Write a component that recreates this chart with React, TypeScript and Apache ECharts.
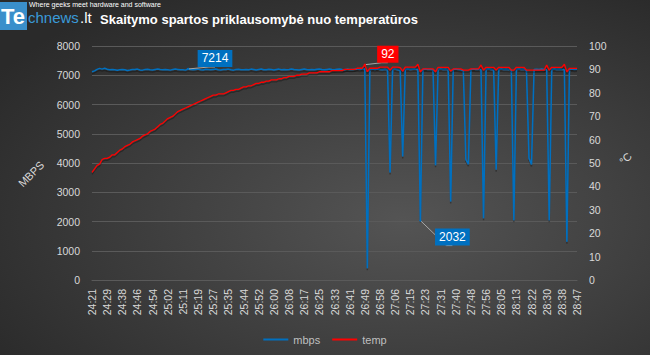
import React, { useEffect, useRef } from 'react';
import * as echarts from 'echarts';

const tickLabels = [
  '24:21', '24:29', '24:38', '24:46', '24:54', '25:02', '25:11', '25:19', '25:27', '25:35', '25:44',
  '25:52', '26:00', '26:08', '26:17', '26:25', '26:33', '26:41', '26:49', '26:58', '27:06', '27:15',
  '27:23', '27:31', '27:40', '27:48', '27:56', '28:05', '28:13', '28:22', '28:30', '28:38', '28:47',
];

// mbps readings (6 samples per labelled tick interval)
const mbps = [
  7120, 7150, 7200, 7235, 7210, 7240, 7205, 7190, 7195, 7185, 7170, 7185,
  7200, 7190, 7165, 7180, 7200, 7195, 7210, 7180, 7175, 7195, 7205, 7190,
  7180, 7200, 7215, 7195, 7185, 7200, 7190, 7175, 7195, 7210, 7200, 7185,
  7190, 7175, 7214, 7195, 7185, 7200, 7210, 7190, 7180, 7205, 7195, 7185,
  7200, 7215, 7190, 7180, 7200, 7195, 7210, 7185, 7175, 7195, 7205, 7190,
  7185, 7200, 7190, 7210, 7195, 7180, 7200, 7215, 7190, 7185, 7205, 7195,
  7180, 7195, 7210, 7190, 7200, 7185, 7195, 7215, 7200, 7190, 7180, 7200,
  7210, 7195, 7185, 7200, 7190, 7205, 7215, 7195, 7185, 7200, 7210, 7195,
  7190, 7205, 7215, 7200, 7190, 7210, 7200, 7195, 7205, 7215, 7200, 7210,
  7220, 400, 7190, 7210, 7200, 7215, 7200, 7190, 7205, 7180, 3680, 7200,
  7210, 7190, 7170, 4220, 7200, 7210, 7195, 7205, 7210, 7190, 2032, 7200,
  7215, 7195, 7205, 7180, 3920, 7200, 7210, 7195, 7205, 7185, 2680, 7200,
  7210, 7195, 7180, 7150, 4120, 3960, 7200, 7210, 7195, 7205, 7190, 2110,
  7200, 7210, 7195, 7180, 3770, 7200, 7210, 7195, 7205, 7190, 7180, 2040,
  7200, 7210, 7195, 7205, 7150, 4160, 3950, 7200, 7205, 7195, 7210, 7200,
  7190, 2040, 7200, 7210, 7195, 7205, 7200, 7190, 1310, 7200, 7210, 7195, 7205,
];

// temperature readings, °C
const temp = [
  46, 47.5, 49, 49.5, 51.5, 52, 52, 52.5, 53.5, 53.5, 54.5, 55.5,
  56, 57, 57.5, 58, 59, 59.5, 60, 60.5, 61.5, 62, 62.5, 63.5,
  64, 64.5, 65.5, 66.5, 67, 68, 69, 69.5, 70, 71, 72, 72.5,
  73, 73.5, 74, 74.5, 75, 75.5, 76, 76.5, 77, 77.5, 78, 78.5,
  79, 79, 79.5, 79.5, 79.5, 80, 80.5, 81, 81, 81.5, 81.5, 82,
  82.5, 82.5, 83, 83, 83.5, 84, 84, 84.5, 84.5, 85, 85, 85.5,
  85.5, 85.5, 86, 86, 86.5, 86.5, 87, 87, 87, 87.5, 87.5, 88,
  88, 88, 88.5, 88.5, 88.5, 88.5, 89, 89, 89, 89, 89, 89.5,
  89.5, 89.5, 89.5, 89.5, 90, 90, 90, 90, 90, 90.5, 90.5, 90.5,
  92, 89, 90.5, 90.5, 90.5, 90.5, 91, 91, 91, 91, 89.7, 91,
  91, 91, 90.8, 89.3, 91, 91, 91, 91, 91, 92.2, 89, 90.2,
  90.2, 90.2, 90.2, 90.2, 89, 90.9, 90.9, 90.9, 90.9, 90.9, 89.3, 90.2,
  90.2, 90.2, 90.2, 89.7, 89.7, 89.7, 90.2, 90.2, 90.2, 90.2, 91.9, 89.7,
  90.9, 90.9, 90.9, 90.9, 89.7, 90.9, 90.9, 90.9, 90.9, 90.9, 89.7, 89.7,
  90.9, 90.9, 90.9, 90.9, 89.7, 89.7, 89.7, 89.7, 89.7, 89.7, 89.7, 89.7,
  91.9, 89.7, 90.9, 90.9, 90.9, 90.9, 90.9, 92.2, 89, 90.4, 90.4, 90.4, 90.4,
];

const seriesNames = ['mbps', 'temp'];
const mbpsCallouts: Record<number, number[]> = { 38: [27, -10.5], 130: [32, 16.5] };
const tempCallouts: Record<number, number[]> = { 108: [23, -10.5] };

const categories = tickLabels.flatMap((t, i) =>
  i === tickLabels.length - 1 ? [t] : [t, '', '', '', '', '']
);

const FONT = 'Liberation Sans';
const AXIS_TEXT = '#d9d9d9';
const GRID = '#5a5a5a';
const BLUE = '#0070c0';
const RED = '#ff0000';

function withCallouts(values: number[], callouts: Record<number, number[]>, bg: string) {
  return values.map((v, i) =>
    callouts[i]
      ? {
          value: v,
          symbol: 'circle',
          symbolSize: 2,
          label: {
            show: true,
            position: 'inside',
            offset: callouts[i],
            backgroundColor: bg,
            color: '#ffffff',
            fontSize: 12,
            fontFamily: FONT,
            padding: [3, 4, 2, 4],
          },
          labelLine: { show: true, length2: 6, lineStyle: { color: '#a6a6a6', width: 1 } },
        }
      : v
  );
}

export default function App() {
  const ref = useRef<HTMLDivElement>(null);
  useEffect(() => {
    const chart = echarts.init(ref.current!, null, { renderer: 'svg' });
    const lineShadow = { shadowColor: 'rgba(0,0,0,0.3)', shadowBlur: 1, shadowOffsetY: 2 };
    chart.setOption({
      animation: false,
      backgroundColor: {
        type: 'radial', x: 0.62, y: 0.62, r: 0.75,
        colorStops: [
          { offset: 0, color: '#545454' },
          { offset: 1, color: '#2a2a2a' },
        ],
      },
      textStyle: { fontFamily: FONT },
      title: {
        text: 'Skaitymo spartos priklausomybė nuo temperatūros',
        left: 100, top: 13, padding: 0,
        textStyle: { color: '#ffffff', fontSize: 13, fontWeight: 'bold', fontFamily: FONT },
      },
      graphic: [
        { type: 'rect', left: 0, top: 2, shape: { width: 27, height: 28 }, style: { fill: '#3a8fcb' } },
        { type: 'text', left: 1, top: 5, style: { text: 'Te', fill: '#ffffff', fontSize: 22, fontWeight: 'bold', fontFamily: FONT } },
        { type: 'text', left: 28, top: 10, style: { text: 'chnews', fill: '#3a9ad9', fontSize: 15, fontFamily: FONT } },
        { type: 'text', left: 80, top: 10, style: { text: '.lt', fill: '#ffffff', fontSize: 15, fontFamily: FONT } },
        { type: 'text', left: 29, top: 1, style: { text: 'Where geeks meet hardware and software', fill: '#ffffff', fontSize: 7, fontFamily: FONT } },
      ],
      legend: {
        data: seriesNames,
        left: 'center', top: 329,
        icon: 'rect',
        itemWidth: 25, itemHeight: 2, itemGap: 12,
        textStyle: { color: '#bfbfbf', fontSize: 11, fontFamily: FONT },
      },
      grid: { left: 92, right: 73, top: 46, bottom: 75 },
      xAxis: {
        type: 'category',
        data: categories,
        boundaryGap: false,
        axisLabel: { interval: 5, rotate: 90, color: AXIS_TEXT, fontSize: 10.5, margin: 9, fontFamily: FONT },
        axisTick: { show: false },
        axisLine: { lineStyle: { color: GRID } },
        splitLine: { show: false },
      },
      yAxis: [
        {
          type: 'value', min: 0, max: 8000, interval: 1000,
          axisLabel: { color: AXIS_TEXT, fontSize: 10.5, margin: 12, fontFamily: FONT, formatter: (v: number) => String(v) },
          splitLine: { lineStyle: { color: GRID } },
          axisLine: { show: false }, axisTick: { show: false },
          name: 'MBPS', nameLocation: 'middle', nameGap: 39, nameRotate: 45,
          nameTextStyle: { color: AXIS_TEXT, fontSize: 11, fontFamily: FONT },
        },
        {
          type: 'value', min: 0, max: 100, interval: 10, position: 'right',
          axisLabel: { color: AXIS_TEXT, fontSize: 10.5, margin: 12, fontFamily: FONT },
          splitLine: { show: false },
          axisLine: { show: false }, axisTick: { show: false },
          name: '°C', nameLocation: 'middle', nameGap: 37, nameRotate: 45,
          nameTextStyle: { color: AXIS_TEXT, fontSize: 11, fontFamily: FONT, padding: [12, 0, 0, 0] },
        },
      ],
      series: [
        {
          name: seriesNames[0], type: 'line', yAxisIndex: 0,
          data: withCallouts(mbps, mbpsCallouts, BLUE),
          symbol: 'none', showSymbol: true, showAllSymbol: true,
          lineStyle: { color: BLUE, width: 1.5, ...lineShadow },
          itemStyle: { color: BLUE },
        },
        {
          name: seriesNames[1], type: 'line', yAxisIndex: 1,
          data: withCallouts(temp, tempCallouts, RED),
          symbol: 'none', showSymbol: true, showAllSymbol: true,
          lineStyle: { color: RED, width: 1.3, ...lineShadow },
          itemStyle: { color: RED },
        },
      ],
    });
    return () => chart.dispose();
  }, []);
  return <div ref={ref} style={{ position: 'absolute', left: 0, top: 0, width: 650, height: 355 }} />;
}
